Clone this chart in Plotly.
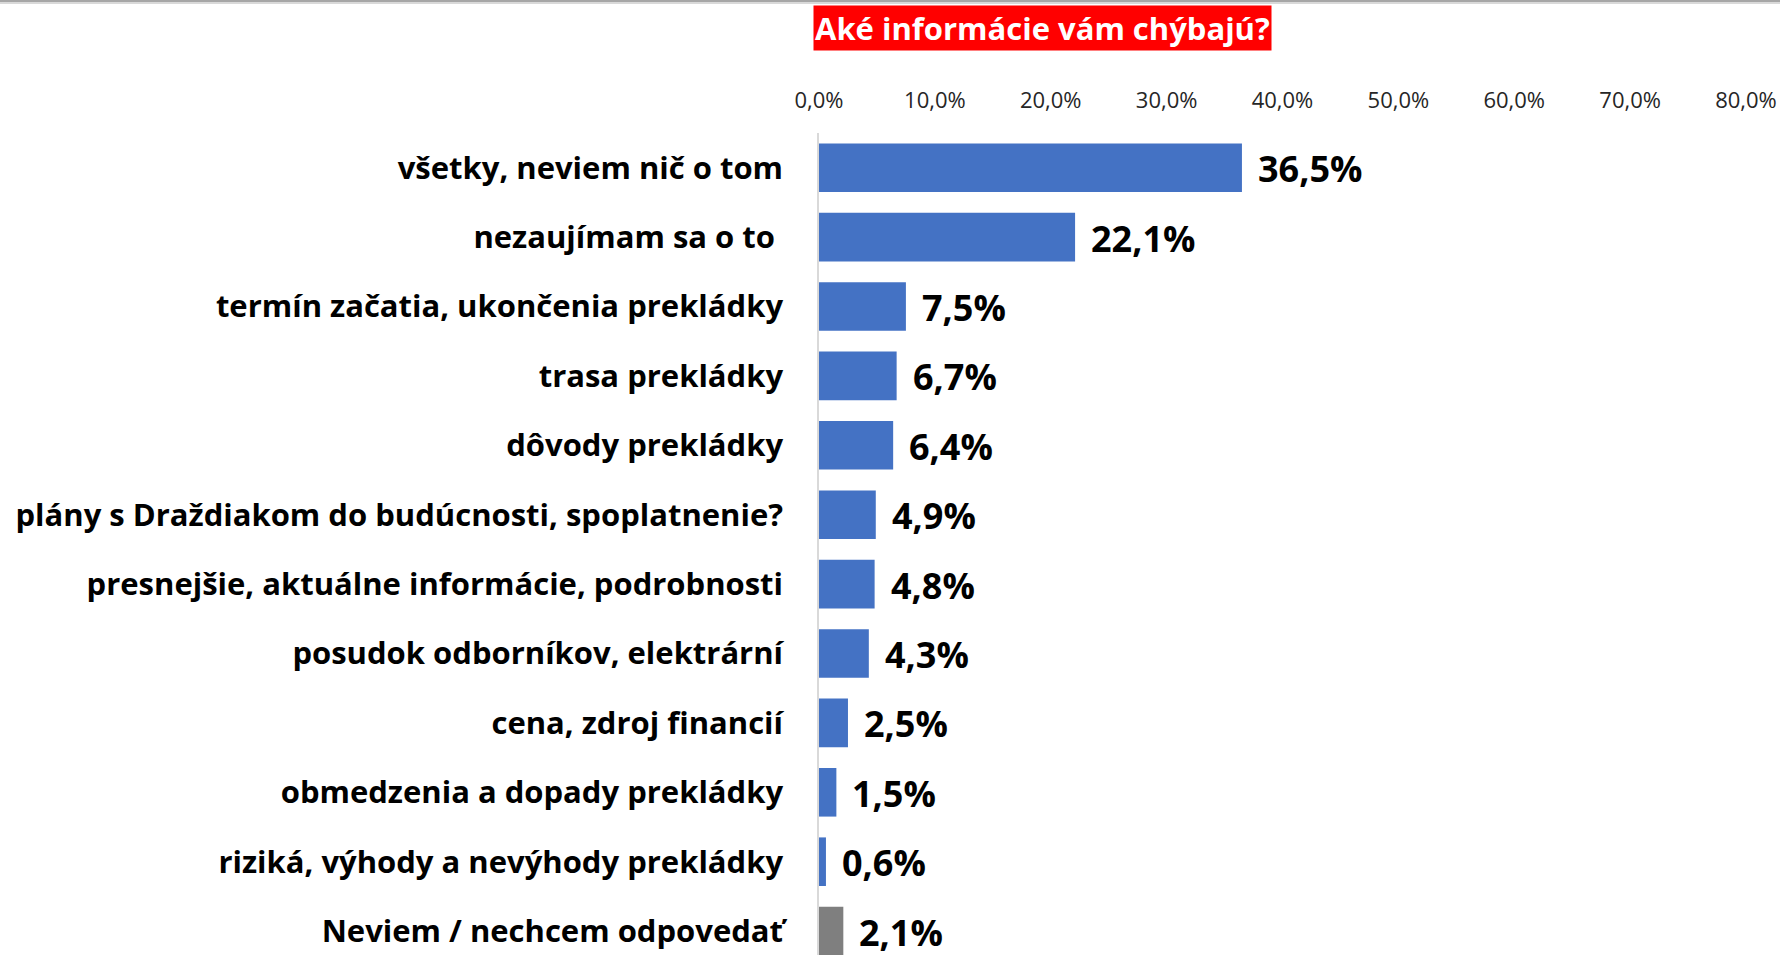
import plotly.graph_objects as go

categories = [
    "všetky, neviem nič o tom",
    "nezaujímam sa o to ",
    "termín začatia, ukončenia prekládky",
    "trasa prekládky",
    "dôvody prekládky",
    "plány s Draždiakom do budúcnosti, spoplatnenie?",
    "presnejšie, aktuálne informácie, podrobnosti",
    "posudok odborníkov, elektrární",
    "cena, zdroj financií",
    "obmedzenia a dopady prekládky",
    "riziká, výhody a nevýhody prekládky",
    "Neviem / nechcem odpovedať",
]
values = [36.5, 22.1, 7.5, 6.7, 6.4, 4.9, 4.8, 4.3, 2.5, 1.5, 0.6, 2.1]
tick_values = [0, 10, 20, 30, 40, 50, 60, 70, 80]
tick_labels = ["0,0%", "10,0%", "20,0%", "30,0%", "40,0%", "50,0%", "60,0%", "70,0%", "80,0%"]
title_text = "Aké informácie vám chýbajú?"

BLUE = "#4472C4"
GRAY = "#7F7F7F"
colors = [BLUE] * (len(values) - 1) + [GRAY]
value_labels = [f"{v:.1f}".replace(".", ",") + "%" for v in values]

W, H = 1780, 955
L, T = 819, 133
PLOT_W = 927
PLOT_H = H - T
SLOT = 69.4
y_bottom = -0.5 + PLOT_H / SLOT

fig = go.Figure()
fig.add_trace(go.Bar(
    x=values, y=categories, orientation="h",
    marker=dict(color=colors, line=dict(width=0)),
    hoverinfo="skip",
))

for cat, v, lab in zip(categories, values, value_labels):
    fig.add_annotation(
        x=v, y=cat, xref="x", yref="y", text=lab, showarrow=False,
        xanchor="left", yanchor="middle", xshift=14, yshift=-1,
        font=dict(family="Open Sans", size=36, color="#000000", weight="bold"),
    )

def py(px):
    return 1 + (T - px) / PLOT_H

# title with red background
fig.add_annotation(
    x=(1042.5 - L) / PLOT_W, y=py(28.5), xref="paper", yref="paper",
    text=title_text, showarrow=False, xanchor="center", yanchor="middle",
    font=dict(family="Open Sans", size=31, color="#FFFFFF", weight="bold"),
    bgcolor="#FF0000", borderpad=1,
)

# top shadow line
fig.add_shape(type="rect", xref="paper", yref="paper",
              x0=-L / PLOT_W, x1=(W - L) / PLOT_W, y0=py(2), y1=py(0),
              fillcolor="#A6A6A6", line=dict(width=0), layer="above")
fig.add_shape(type="rect", xref="paper", yref="paper",
              x0=-L / PLOT_W, x1=(W - L) / PLOT_W, y0=py(4), y1=py(2),
              fillcolor="#D9D9D9", line=dict(width=0), layer="above")

fig.update_layout(
    width=W, height=H,
    margin=dict(l=L, r=W - L - PLOT_W, t=T, b=0, pad=0),
    plot_bgcolor="#FFFFFF", paper_bgcolor="#FFFFFF",
    bargap=0.3, showlegend=False,
    font=dict(family="Open Sans", color="#000000"),
)
fig.update_xaxes(
    side="top", range=[0, 80], tickvals=tick_values, ticktext=tick_labels,
    showgrid=False, zeroline=False, showline=False,
    ticks="", ticklabelstandoff=20,
    tickfont=dict(family="Open Sans", size=22, color="#262626"),
)
fig.update_yaxes(
    categoryorder="array", categoryarray=categories,
    range=[y_bottom, -0.5],
    showgrid=False, zeroline=False,
    showline=True, linecolor="#D9D9D9", linewidth=1.5,
    ticks="", ticklabelstandoff=28,
    tickfont=dict(family="Open Sans", size=31, color="#000000", weight="bold"),
)

fig.write_html("out.html",
               config={"displayModeBar": False},
               post_script="document.body.style.margin='0';document.body.style.overflow='hidden';")
